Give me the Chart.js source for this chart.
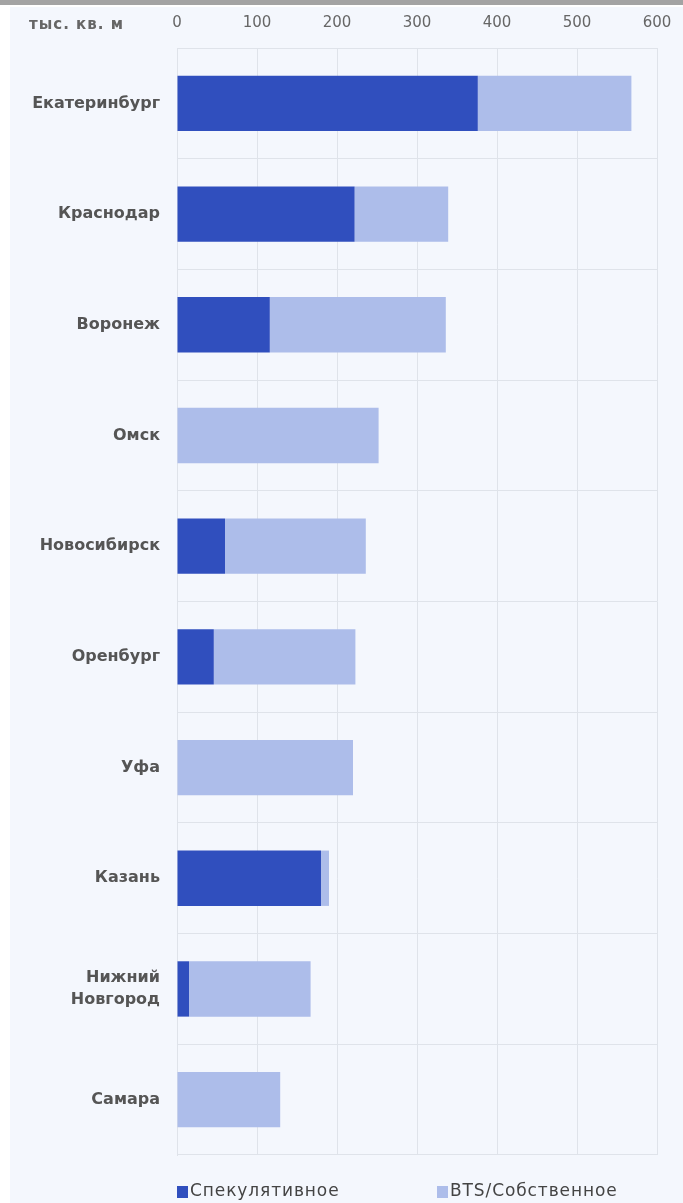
<!DOCTYPE html>
<html>
<head>
<meta charset="utf-8">
<script src="https://cdn.jsdelivr.net/npm/chart.js@4"></script>
<style>
  html, body { margin: 0; padding: 0; background: #fff; }
  canvas { display: block; }
</style>
</head>
<body>
<canvas id="chart" width="683" height="1203"></canvas>
<script>
// города и объёмы (тыс. кв. м)
const cities = [
  "Екатеринбург", "Краснодар", "Воронеж", "Омск", "Новосибирск",
  "Оренбург", "Уфа", "Казань", ["Нижний", "Новгород"], "Самара"
];
const speculative = [376, 222, 116, 0, 60, 46, 0, 180, 15, 0];
const bts = [192, 117, 220, 252, 176, 177, 220, 10, 152, 129];
const xTicks = [0, 100, 200, 300, 400, 500, 600];
const unitLabel = "тыс. кв. м";

const darkBlue = "#304fbe";
const lightBlue = "#adbdea";
const gridColor = "#dfe3ea";

// фон, подпись единиц и легенда снизу
const decor = {
  id: "decor",
  beforeDraw(chart) {
    const ctx = chart.ctx;
    ctx.save();
    ctx.fillStyle = "#ffffff";
    ctx.fillRect(0, 0, chart.width, chart.height);
    ctx.fillStyle = "#f4f7fd";
    ctx.fillRect(10, 7, chart.width - 10, chart.height - 7);
    ctx.fillStyle = "#a3a3a3";
    ctx.fillRect(0, 0, chart.width, 5);
    ctx.restore();
  },
  afterDraw(chart) {
    const ctx = chart.ctx;
    ctx.save();
    ctx.fillStyle = "#666";
    ctx.font = "bold 15px 'DejaVu Sans'";
    ctx.letterSpacing = "1px";
    ctx.textAlign = "left";
    ctx.textBaseline = "middle";
    ctx.fillText(unitLabel, 29, 25);

    const legendX = [177, 437];
    ctx.font = "17px 'DejaVu Sans'";
    ctx.letterSpacing = "0.9px";
    chart.data.datasets.forEach((ds, i) => {
      ctx.fillStyle = ds.backgroundColor;
      ctx.fillRect(legendX[i], 1186, 11, 12);
      ctx.fillStyle = "#444";
      ctx.fillText(ds.label, legendX[i] + 13, 1192);
    });
    ctx.restore();
  }
};

new Chart(document.getElementById("chart").getContext("2d"), {
  type: "bar",
  data: {
    labels: cities,
    datasets: [
      { label: "Спекулятивное", data: speculative, backgroundColor: darkBlue },
      { label: "BTS/Собственное", data: bts, backgroundColor: lightBlue }
    ]
  },
  options: {
    indexAxis: "y",
    responsive: false,
    animation: false,
    barPercentage: 0.5,
    categoryPercentage: 1,
    layout: { padding: { left: 0, top: 0, right: 26, bottom: 48 } },
    plugins: {
      legend: { display: false },
      tooltip: { enabled: false }
    },
    scales: {
      x: {
        position: "top",
        stacked: true,
        min: 0,
        max: 600,
        afterBuildTicks(scale) {
          scale.ticks = xTicks.map(v => ({ value: v }));
        },
        afterFit(scale) {
          scale.height = 48;
          // подписи по краям не должны сужать область графика
          scale.paddingLeft = 0;
          scale.paddingRight = 0;
        },
        ticks: {
          font: { family: "DejaVu Sans", size: 15 },
          color: "#666",
          padding: 16
        },
        grid: { color: gridColor, drawTicks: false },
        border: { display: false }
      },
      y: {
        stacked: true,
        afterFit(scale) { scale.width = 177; },
        ticks: {
          font: { family: "DejaVu Sans", size: 16, weight: "bold", lineHeight: 1.4 },
          color: "#555",
          padding: 17
        },
        grid: { color: gridColor, drawTicks: false },
        border: { color: gridColor }
      }
    }
  },
  plugins: [decor]
});
</script>
</body>
</html>
